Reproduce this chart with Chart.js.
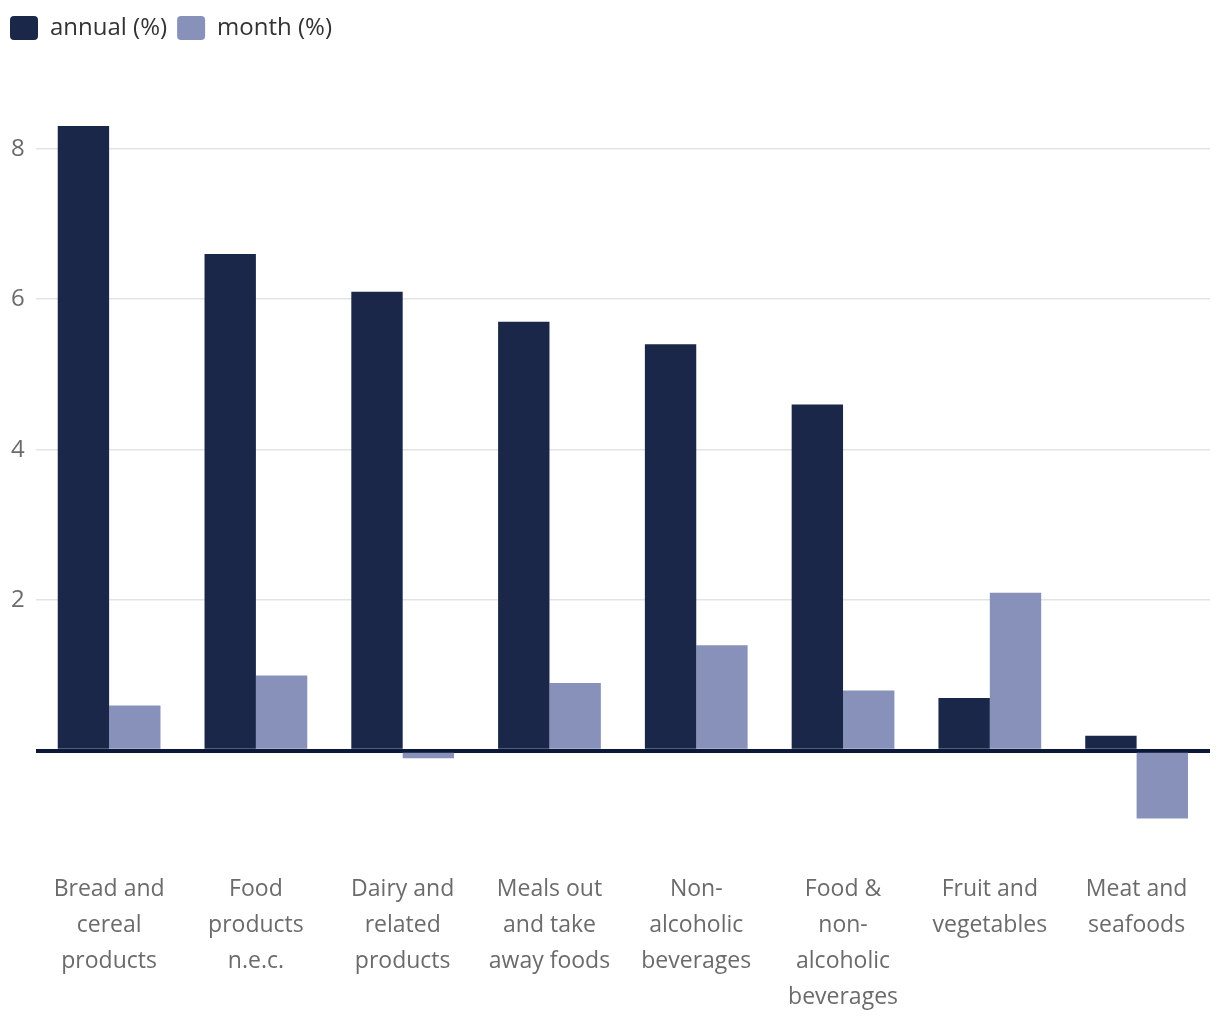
<!DOCTYPE html>
<html><head><meta charset="utf-8">
<script src="https://cdn.jsdelivr.net/npm/chart.js@4"></script>
<style>html,body{margin:0;padding:0;background:#fff}#wrap{width:1220px;height:1020px}</style>
</head><body><div id="wrap"><canvas id="c"></canvas></div>
<script>
const categories = [
  ["Bread and","cereal","products"],
  ["Food","products","n.e.c."],
  ["Dairy and","related","products"],
  ["Meals out","and take","away foods"],
  ["Non-","alcoholic","beverages"],
  ["Food &","non-","alcoholic","beverages"],
  ["Fruit and","vegetables"],
  ["Meat and","seafoods"]
];
const annual = [8.3, 6.6, 6.1, 5.7, 5.4, 4.6, 0.7, 0.2];
const month = [0.6, 1.0, -0.1, 0.9, 1.4, 0.8, 2.1, -0.9];
const yTicks = [0, 2, 4, 6, 8];

const FONT = "'Open Sans', 'Noto Sans', sans-serif";
const legendGap = {
  id: 'legendGap',
  beforeInit(chart) {
    const lg = chart.legend;
    const fit = lg.fit;
    lg.fit = function () { fit.call(this); this.height += 46; };
  }
};
new Chart(document.getElementById('c'), {
  type: 'bar',
  data: {
    labels: categories,
    datasets: [
      {label: 'annual (%)', data: annual, backgroundColor: '#1b2748'},
      {label: 'month (%)', data: month, backgroundColor: '#8891b9'}
    ]
  },
  plugins: [legendGap],
  options: {
    responsive: true, maintainAspectRatio: false, animation: false,
    layout: {padding: {left: 0, right: 10, top: 6, bottom: -25}},
    datasets: {bar: {barPercentage: 1, categoryPercentage: 0.7}},
    plugins: {
      legend: {
        position: 'top', align: 'start',
        labels: {boxWidth: 28, boxHeight: 24, useBorderRadius: true, borderRadius: 4,
          color: '#333', font: {family: FONT, size: 24}, padding: 10}
      },
      tooltip: {enabled: false}
    },
    scales: {
      x: {
        grid: {display: false, drawTicks: false},
        border: {display: false},
        ticks: {color: '#6b6b6b', font: {family: FONT, size: 23, lineHeight: 36/23}, padding: 30, maxRotation: 0, autoSkip: false}
      },
      y: {
        min: -1.2, max: 8.7,
        afterBuildTicks: (s) => { s.ticks = yTicks.map(v => ({value: v})); },
        grid: {
          drawTicks: false,
          color: (ctx) => ctx.tick && ctx.tick.value === 0 ? '#0c1837' : '#e3e3e3',
          lineWidth: (ctx) => ctx.tick && ctx.tick.value === 0 ? 4 : 1.5
        },
        border: {display: false},
        ticks: {color: '#6b6b6b', font: {family: FONT, size: 24}, padding: 11,
          callback: (v) => v === 0 ? '' : v}
      }
    }
  }
});
</script></body></html>
